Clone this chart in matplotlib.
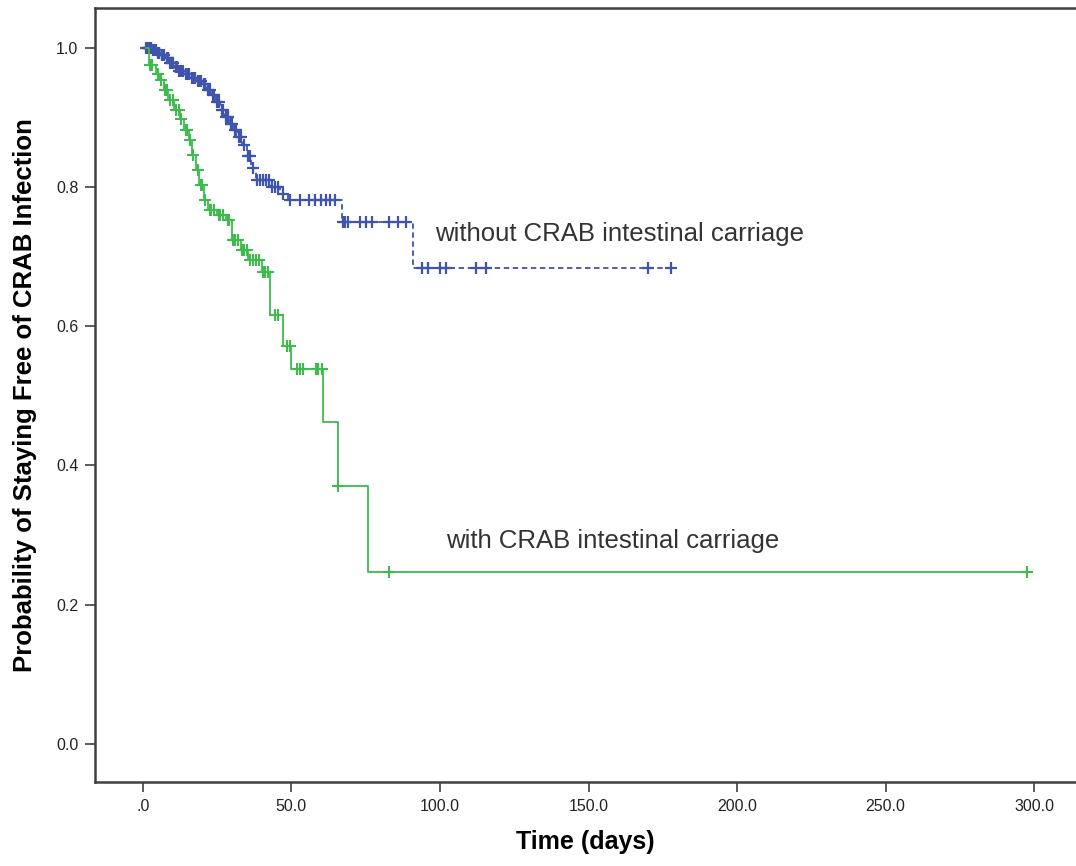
import numpy as np
import matplotlib
matplotlib.use("Agg")
import matplotlib.pyplot as plt

plt.rcParams['font.family'] = ['Liberation Sans', 'DejaVu Sans']

# without CRAB intestinal carriage (blue, dashed)
blueStepDays = [3, 4.5, 6, 7.5, 9, 10.5, 12, 14, 16, 18, 20, 21.5, 23, 24.5, 26, 27.5,
                29, 30.5, 32, 33.5, 35, 36.5, 38, 43, 46, 49, 67, 91]
blueLevels = [0.997, 0.993, 0.99, 0.985, 0.978, 0.972, 0.966, 0.962, 0.957, 0.952, 0.948,
              0.94, 0.932, 0.922, 0.91, 0.9, 0.89, 0.882, 0.872, 0.86, 0.845, 0.828, 0.81,
              0.8, 0.79, 0.782, 0.75, 0.684]
blueStart, blueEnd = 1.0, 178.5
blueCensored = [1, 1.3, 1.6, 2, 2.3, 2.6, 3.3, 3.6, 4, 4.3, 5, 5.3, 5.6, 6.3, 6.6, 7, 8,
                8.3, 8.6, 9.3, 9.6, 10, 11, 11.3, 11.6, 12.3, 12.6, 13, 13.5, 14.5, 15,
                15.5, 16.5, 17, 17.5, 18.5, 19, 19.5, 20.5, 21, 22, 22.5, 23.5, 24, 25,
                25.5, 26.5, 27, 28, 28.5, 29.5, 30, 31, 31.5, 32.5, 33, 34, 35.5, 36, 37,
                38.5, 39.5, 40.5, 41.5, 42.5, 43.5, 44.5, 45.5, 47, 49.5, 53, 56, 58, 60,
                61.5, 63, 64.6, 67.3, 68, 69, 73, 75, 77, 83, 85.8, 88.5, 94, 96, 100, 102,
                112, 115.5, 170, 177.6]

# with CRAB intestinal carriage (green, solid)
greenStepDays = [2, 4.5, 5.5, 7, 8.5, 10.5, 12.5, 14, 15.5, 16.5, 18, 19, 20.5, 22, 25, 28,
                 30, 33, 35.5, 40, 42.7, 47, 50, 60.5, 65.6, 75.7]
greenLevels = [0.976, 0.963, 0.954, 0.94, 0.925, 0.911, 0.897, 0.882, 0.868, 0.846, 0.825,
               0.803, 0.782, 0.767, 0.76, 0.753, 0.724, 0.71, 0.695, 0.678, 0.616, 0.572,
               0.539, 0.463, 0.371, 0.247]
greenStart, greenEnd = 1.0, 297.7
greenCensored = [2.5, 3, 5, 6, 7.5, 8, 9, 10, 11, 12, 13, 14.5, 15, 16, 17, 18.5, 19.5, 20,
                 21, 22.5, 23, 24, 25.5, 26, 27, 28.5, 29, 30.5, 31, 32, 33.5, 34, 35, 36,
                 37, 38, 39, 40.5, 41, 42, 44.4, 45.4, 48.4, 49.4, 51.8, 52.8, 53.8, 58.2,
                 58.9, 60.2, 65.6, 82.7, 297.7]

xTicks = [0, 50, 100, 150, 200, 250, 300]
xTickLabels = ['.0', '50.0', '100.0', '150.0', '200.0', '250.0', '300.0']
yTicks = [0.0, 0.2, 0.4, 0.6, 0.8, 1.0]
yTickLabels = ['0.0', '0.2', '0.4', '0.6', '0.8', '1.0']

blueColor = '#3f55ad'
greenColor = '#3dbb4c'


def survivalAt(days, stepDays, levels):
    idx = np.searchsorted(stepDays, days, side='right')
    vals = np.concatenate([[1.0], levels])
    return vals[idx]


def drawCurve(ax, start, end, stepDays, levels, censored, color, ls, mew):
    xs = [start] + list(stepDays) + [end]
    ys = [1.0] + list(levels) + [levels[-1]]
    ax.step(xs, ys, where='post', color=color, lw=1.3, linestyle=ls)
    cy = survivalAt(np.array(censored), np.array(stepDays), np.array(levels))
    ax.plot(censored, cy, linestyle='none', marker='+', markersize=9,
            markeredgewidth=mew, color=color)


fig = plt.figure(figsize=(10.76, 8.66), dpi=100)
ax = fig.add_axes([0.0883, 0.097, 0.911, 0.894])

drawCurve(ax, blueStart, blueEnd, blueStepDays, blueLevels, blueCensored, blueColor,
          (0, (3, 2)), 1.6)
drawCurve(ax, greenStart, greenEnd, greenStepDays, greenLevels, greenCensored, greenColor,
          '-', 1.5)

ax.text(98.2, 0.733, 'without CRAB intestinal carriage', fontsize=18.5, color='#333333',
        va='center')
ax.text(101.9, 0.292, 'with CRAB intestinal carriage', fontsize=18.5, color='#333333',
        va='center')

ax.set_xlim(-16.1, 313.8)
ax.set_ylim(-0.055, 1.0575)
ax.set_xticks(xTicks)
ax.set_xticklabels(xTickLabels)
ax.set_yticks(yTicks)
ax.set_yticklabels(yTickLabels)
ax.tick_params(direction='out', length=7, width=1.2, color='#404040',
               labelsize=11.5, labelcolor='#222222', pad=5)

for side in ['left', 'bottom', 'top']:
    ax.spines[side].set_color('#404040')
    ax.spines[side].set_linewidth(1.8)
ax.spines['right'].set_visible(False)

ax.set_xlabel('Time (days)', fontsize=18, fontweight='bold', labelpad=12)
ax.set_ylabel('Probability of Staying Free of CRAB Infection', fontsize=18.5,
              fontweight='bold', labelpad=14)

fig.savefig('out.png', dpi=100)
